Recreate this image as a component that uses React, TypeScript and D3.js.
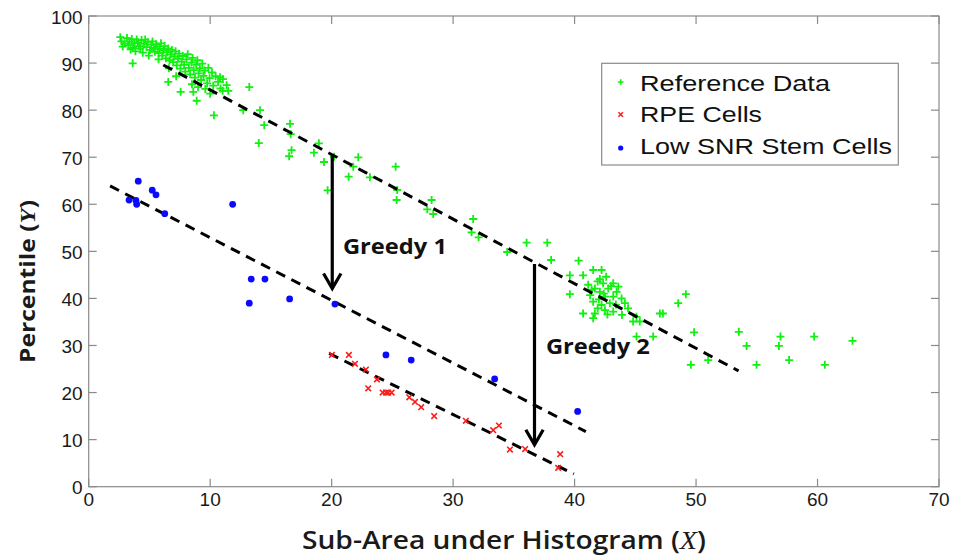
import React from 'react';
import * as d3 from 'd3';

const xTicks = [0, 10, 20, 30, 40, 50, 60, 70];
const yTicks = [0, 10, 20, 30, 40, 50, 60, 70, 80, 90, 100];

const referenceData: [number, number][] = [
  [2.6, 95.5], [2.7, 94.6], [2.8, 93.5], [2.95, 94.2], [3.15, 95.3], [3.35, 94.6], [3.25, 93.8], [3.55, 95.1],
  [3.75, 94.2], [3.65, 93.2], [3.95, 95.0], [4.05, 94.4], [4.15, 93.6], [4.35, 94.9], [4.25, 93.1], [4.55, 94.1],
  [4.65, 95.0], [4.75, 93.4], [4.85, 94.5], [5.05, 92.8], [5.15, 93.9], [5.25, 94.6], [5.35, 93.2], [5.45, 92.4],
  [5.55, 94.0], [5.65, 93.5], [5.75, 92.1], [5.85, 93.0], [5.95, 94.2], [6.05, 91.6], [6.15, 92.7], [6.25, 93.6],
  [6.35, 91.0], [6.45, 92.3], [6.55, 93.1], [6.65, 90.6], [6.75, 91.8], [6.85, 92.8], [6.95, 90.2], [7.05, 91.4],
  [7.15, 92.5], [7.25, 89.5], [7.35, 90.9], [7.45, 92.0], [7.55, 88.8], [7.65, 90.3], [7.75, 91.5], [7.85, 89.6],
  [7.95, 88.2], [8.05, 90.8], [8.15, 91.9], [8.25, 89.0], [8.35, 87.6], [8.45, 90.1], [8.55, 91.1], [8.65, 88.5],
  [8.75, 86.9], [8.85, 89.6], [8.95, 90.6], [9.05, 87.8], [9.15, 88.9], [9.25, 86.4], [9.35, 89.9], [9.45, 87.3],
  [9.55, 88.4], [9.75, 85.7], [9.85, 89.0], [9.95, 86.8], [10.15, 88.0], [10.25, 85.2], [10.45, 87.2], [10.65, 86.0],
  [10.85, 84.6], [11.05, 86.6], [11.35, 85.3], [3.45, 92.9], [3.85, 92.5], [4.45, 92.2], [4.95, 91.6], [5.75, 90.8],
  [8.5, 85.5], [9.0, 84.9], [7.2, 87.2], [6.6, 88.9], [9.6, 84.5], [10.0, 83.5],
  [3.62, 89.95], [7.57, 83.9], [8.61, 83.9], [8.89, 82.0], [10.31, 78.9], [6.55, 86.0], [10.81, 87.0], [11.03, 84.1],
  [11.49, 84.1], [13.22, 84.9], [12.72, 80.0], [14.1, 80.0], [14.45, 76.8], [16.57, 77.1], [16.63, 74.9], [14.0, 73.0],
  [16.5, 70.2], [16.7, 71.5],
  [18.95, 72.96], [18.54, 70.96], [19.37, 68.98], [19.67, 62.97], [20.21, 70.1], [22.19, 69.98], [21.78, 67.98],
  [21.4, 65.86], [23.15, 65.73], [25.27, 67.98], [25.4, 63.03], [25.35, 60.91], [28.23, 60.91], [27.87, 58.93],
  [28.36, 57.94], [31.65, 56.87], [31.52, 54.05], [32.1, 52.98], [34.45, 49.86], [36.05, 51.84], [37.75, 51.84],
  [38.07, 48.16], [40.33, 48.01], [39.61, 44.91], [40.7, 44.91], [41.53, 46.04], [42.22, 46.04],
  [42.08, 44.1], [41.12, 42.9], [42.35, 43.2], [43.18, 43.2], [41.67, 42.1], [42.77, 42.1], [42.08, 41.4],
  [43.46, 41.4], [41.28, 40.7], [42.51, 40.4], [43.18, 40.4], [43.87, 40.0], [41.53, 39.3], [42.9, 39.0],
  [42.22, 38.6], [44.14, 39.0], [39.61, 40.9], [40.7, 36.8], [41.67, 36.8], [42.5, 37.5], [43.18, 37.2],
  [41.53, 35.8], [45.1, 36.1], [44.82, 35.1], [45.37, 35.1], [47.02, 36.8], [47.27, 36.8], [48.53, 39.0],
  [49.16, 40.9], [41.9, 43.6], [42.6, 44.6], [43.0, 42.6], [41.4, 41.8], [42.4, 41.0], [43.6, 42.5], [42.0, 39.8],
  [43.4, 38.7], [41.9, 37.9], [42.7, 36.6], [44.4, 37.9], [43.9, 36.5],
  [45.1, 31.9], [46.47, 31.9], [49.84, 32.8], [49.57, 25.9], [51.0, 26.9], [53.52, 32.9], [54.16, 29.9],
  [54.98, 25.9], [56.95, 31.9], [56.82, 29.9], [57.66, 26.9], [59.72, 31.9], [60.6, 25.9], [62.88, 31.0],
];

const rpeCells: [number, number][] = [
  [20.02, 28.0], [21.42, 28.0], [21.92, 26.1], [22.82, 24.9], [23.73, 22.8], [23.01, 20.9], [24.2, 20.0],
  [24.47, 20.0], [24.66, 20.0], [24.94, 20.0], [26.39, 19.0], [26.86, 18.0], [27.37, 16.9], [28.44, 15.0],
  [31.05, 14.0], [33.3, 12.0], [33.77, 13.0], [34.68, 7.9], [35.93, 8.0], [38.81, 6.9], [38.65, 4.0],
];

const lowSnrStemCells: [number, number][] = [
  [4.08, 64.9], [5.23, 63.0], [5.54, 62.0], [3.32, 60.9], [3.89, 60.8], [3.95, 60.0], [6.26, 58.0],
  [11.85, 60.0], [13.38, 44.1], [14.51, 44.1], [13.22, 39.0], [16.54, 39.9], [20.27, 38.8], [24.47, 28.0],
  [26.55, 26.9], [33.42, 22.9], [40.25, 16.0],
];

const referenceFit: [number, number][] = [[6.14, 89.6], [53.5, 24.6]];
const stemFit: [number, number][] = [[1.76, 63.9], [40.93, 11.7]];
const rpeFit: [number, number][] = [[19.8, 28.3], [39.94, 2.7]];

const arrowLabels = ['Greedy 1', 'Greedy 2'];
const arrowX = [20.05, 36.7];
const arrowFrom = [70.5, 47.3];
const arrowTo = [42.1, 8.9];
const labelX = [20.93, 37.64];
const labelY = [49.4, 28.2];

const legendLabels = ['Reference Data', 'RPE Cells', 'Low SNR Stem Cells'];

const W = 956;
const H = 560;
const M = { left: 88.7, right: 939, top: 16, bottom: 486.7 };
const GREEN = '#11f011';
const BLUE = '#0a0aff';
const RED = '#ff1a1a';
const AXIS = '#8a8a8a';

function Plus({ cx, cy, s, w }: { cx: number; cy: number; s: number; w: number }) {
  return (
    <path d={`M${cx - s},${cy}H${cx + s}M${cx},${cy - s}V${cy + s}`} stroke={GREEN} strokeWidth={w} fill="none" />
  );
}
function Cross({ cx, cy, s, w }: { cx: number; cy: number; s: number; w: number }) {
  return (
    <path d={`M${cx - s},${cy - s}L${cx + s},${cy + s}M${cx - s},${cy + s}L${cx + s},${cy - s}`} stroke={RED} strokeWidth={w} fill="none" />
  );
}

export default function App() {
  const x = d3.scaleLinear().domain([0, 70]).range([M.left, M.right]);
  const y = d3.scaleLinear().domain([0, 100]).range([M.bottom, M.top]);
  const line = d3.line<[number, number]>().x((d) => x(d[0])).y((d) => y(d[1]));
  const tickLen = 8;
  const legendRowY = [82, 114.5, 148];
  const legendBase = [90.7, 122, 154];
  const legendLen = [190, 122, 252];

  return (
    <svg width={W} height={H} style={{ position: 'absolute', left: 0, top: 0, background: '#fff' }}>
      <rect x={0} y={0} width={W} height={H} fill="#fff" />
      <rect x={M.left} y={M.top} width={M.right - M.left} height={M.bottom - M.top} fill="none" stroke={AXIS} strokeWidth={1.2} />
      {xTicks.map((t) => (
        <g key={'xt' + t}>
          <line x1={x(t)} x2={x(t)} y1={M.bottom} y2={M.bottom - tickLen} stroke={AXIS} strokeWidth={1.2} />
          <line x1={x(t)} x2={x(t)} y1={M.top} y2={M.top + tickLen} stroke={AXIS} strokeWidth={1.2} />
          <text x={x(t)} y={M.bottom + 19} textAnchor="middle" fontFamily="'Liberation Sans', Arial, sans-serif" fontSize={19} fill="#1a1a1a">{t}</text>
        </g>
      ))}
      {yTicks.map((t) => (
        <g key={'yt' + t}>
          <line x1={M.left} x2={M.left + tickLen} y1={y(t)} y2={y(t)} stroke={AXIS} strokeWidth={1.2} />
          <line x1={M.right} x2={M.right - tickLen} y1={y(t)} y2={y(t)} stroke={AXIS} strokeWidth={1.2} />
          <text x={M.left - 6} y={y(t) + 7.5} textAnchor="end" fontFamily="'Liberation Sans', Arial, sans-serif" fontSize={19} fill="#1a1a1a">{t}</text>
        </g>
      ))}

      {referenceData.map((d, i) => (
        <Plus key={'g' + i} cx={x(d[0])} cy={y(d[1])} s={4} w={1.8} />
      ))}

      {[referenceFit, stemFit, rpeFit].map((seg, i) => (
        <path key={'fit' + i} d={line(seg) || ''} stroke="#000" strokeWidth={3} strokeDasharray="10 7" fill="none" />
      ))}

      {rpeCells.map((d, i) => (
        <Cross key={'r' + i} cx={x(d[0])} cy={y(d[1])} s={2.8} w={1.6} />
      ))}
      {lowSnrStemCells.map((d, i) => (
        <circle key={'b' + i} cx={x(d[0])} cy={y(d[1])} r={3.4} fill={BLUE} />
      ))}

      {arrowLabels.map((lab, i) => {
        const ax = x(arrowX[i]);
        const y0 = y(arrowFrom[i]);
        const y1 = y(arrowTo[i]);
        return (
          <g key={'arr' + i}>
            <line x1={ax} x2={ax} y1={y0} y2={y1 - 1} stroke="#000" strokeWidth={3.2} />
            <path d={`M${ax - 8.7},${y1 - 15}L${ax},${y1}L${ax + 8.7},${y1 - 15}`} stroke="#000" strokeWidth={3.2} fill="none" strokeLinejoin="miter" />
            <text x={x(labelX[i])} y={y(labelY[i])} fontFamily="'Open Sans', 'Noto Sans', sans-serif" fontWeight={700} fontSize={21} fill="#111" textLength={104} lengthAdjust="spacingAndGlyphs">{lab}</text>
          </g>
        );
      })}

      <rect x={601.7} y={63.3} width={296.6} height={101.7} fill="#fff" stroke={AXIS} strokeWidth={1.2} />
      <Plus cx={620.7} cy={legendRowY[0]} s={2.8} w={1.6} />
      <Cross cx={620.7} cy={legendRowY[1]} s={2.2} w={1.5} />
      <circle cx={620.7} cy={legendRowY[2]} r={2.6} fill={BLUE} />
      {legendLabels.map((lab, i) => (
        <text key={'lg' + i} x={640} y={legendBase[i]} fontFamily="'Liberation Sans', Arial, sans-serif" fontSize={22.5} fill="#111" textLength={legendLen[i]} lengthAdjust="spacingAndGlyphs">{lab}</text>
      ))}

      <text x={302} y={549} fontFamily="'Open Sans', 'Noto Sans', sans-serif" fontWeight={600} fontSize={25} fill="#1a1a1a" textLength={404} lengthAdjust="spacingAndGlyphs">
        Sub-Area under Histogram (<tspan fontFamily="'Liberation Serif', 'DejaVu Serif', serif" fontStyle="italic" fontWeight={400}>X</tspan>)
      </text>
      <text transform="translate(35,363) rotate(-90)" x={0} y={0} fontFamily="'Open Sans', 'Noto Sans', sans-serif" fontWeight={700} fontSize={21} fill="#1a1a1a" textLength={163} lengthAdjust="spacingAndGlyphs">
        Percentile (<tspan fontFamily="'Liberation Serif', 'DejaVu Serif', serif" fontStyle="italic" fontWeight={700}>Y</tspan>)
      </text>
    </svg>
  );
}
